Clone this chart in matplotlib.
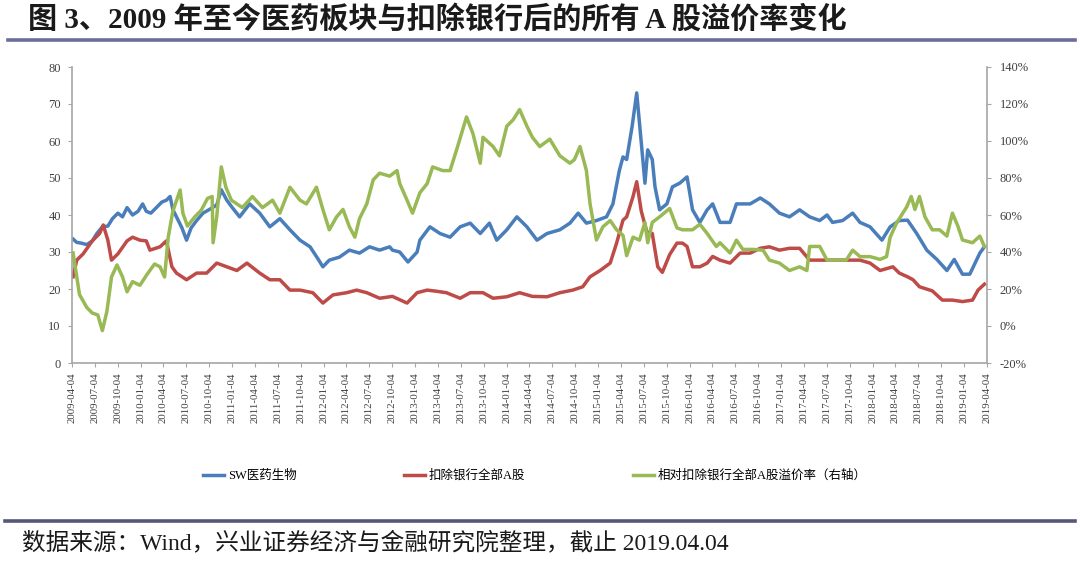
import matplotlib
matplotlib.use('Agg')
import matplotlib.pyplot as plt
from matplotlib.lines import Line2D
from matplotlib.ticker import FuncFormatter
from matplotlib.font_manager import FontProperties

# ---------------- data (time in decimal years) ----------------
blue_t = [2009.27, 2009.31, 2009.36, 2009.42, 2009.48, 2009.53, 2009.59, 2009.65, 2009.70, 2009.76,
          2009.81, 2009.86, 2009.92, 2009.98, 2010.03, 2010.07, 2010.12, 2010.18, 2010.24, 2010.29,
          2010.33, 2010.36, 2010.41, 2010.46, 2010.51, 2010.56, 2010.62, 2010.69, 2010.76, 2010.84,
          2010.89, 2010.95, 2011.01, 2011.09, 2011.20, 2011.31, 2011.42, 2011.53, 2011.64, 2011.75,
          2011.86, 2011.95, 2012.00, 2012.07, 2012.18, 2012.29, 2012.40, 2012.51, 2012.62, 2012.73,
          2012.76, 2012.84, 2012.93, 2013.03, 2013.06, 2013.17, 2013.28, 2013.39, 2013.50, 2013.61,
          2013.72, 2013.82, 2013.90, 2014.01, 2014.12, 2014.23, 2014.34, 2014.45, 2014.59, 2014.70,
          2014.79, 2014.88, 2014.99, 2015.10, 2015.17, 2015.24, 2015.28, 2015.32, 2015.38, 2015.43,
          2015.48, 2015.52, 2015.55, 2015.60, 2015.63, 2015.68, 2015.76, 2015.82, 2015.90, 2015.98,
          2016.04, 2016.12, 2016.20, 2016.26, 2016.34, 2016.45, 2016.52, 2016.67, 2016.78, 2016.88,
          2016.99, 2017.10, 2017.21, 2017.32, 2017.43, 2017.51, 2017.57, 2017.68, 2017.79, 2017.87,
          2017.98, 2018.11, 2018.20, 2018.30, 2018.39, 2018.49, 2018.60, 2018.71, 2018.82, 2018.90,
          2018.99, 2019.07, 2019.18, 2019.23]
blue_v = [33.5, 32.6, 32.4, 32.0, 33.0, 35.0, 36.8, 37.0, 39.0, 40.5,
          39.5, 42.0, 40.0, 41.0, 43.0, 41.0, 40.5, 42.0, 43.5, 44.0,
          45.0, 41.5, 39.0, 36.5, 33.2, 36.5, 38.5, 40.5, 41.5, 42.7,
          46.8, 44.0, 42.0, 39.5, 43.0, 40.5, 36.8, 39.0, 36.0, 33.2,
          31.4, 28.0, 26.0, 27.8, 28.6, 30.5, 29.7, 31.4, 30.5, 31.4,
          30.5, 30.0, 27.3, 30.0, 33.2, 36.8, 35.0, 34.0, 36.8, 37.8,
          35.0, 37.8, 33.2, 36.0, 39.5, 36.8, 33.2, 35.0, 36.0, 37.8,
          40.5, 37.8, 38.5, 39.5, 43.0, 52.0, 55.7, 55.0, 64.0, 73.0,
          59.5, 48.6, 57.6, 55.0, 47.6, 41.4, 43.0, 47.6, 48.6, 50.3,
          41.4, 38.0, 41.4, 43.0, 38.0, 38.0, 43.0, 43.0, 44.6, 43.0,
          40.5, 39.5, 41.4, 39.5, 38.5, 40.0, 38.0, 38.5, 40.5, 38.0,
          36.8, 33.2, 36.8, 38.5, 38.6, 35.0, 30.5, 28.0, 25.0, 28.0,
          24.0, 24.0, 29.7, 31.4]

red_t = [2009.27, 2009.31, 2009.38, 2009.48, 2009.56, 2009.60, 2009.65, 2009.69, 2009.76, 2009.86,
         2009.92, 2010.00, 2010.07, 2010.11, 2010.22, 2010.29, 2010.35, 2010.40, 2010.51, 2010.62,
         2010.73, 2010.84, 2010.95, 2011.06, 2011.17, 2011.31, 2011.42, 2011.53, 2011.64, 2011.75,
         2011.89, 2012.00, 2012.11, 2012.26, 2012.37, 2012.48, 2012.62, 2012.76, 2012.92, 2013.03,
         2013.14, 2013.24, 2013.35, 2013.50, 2013.61, 2013.75, 2013.86, 2014.01, 2014.15, 2014.29,
         2014.45, 2014.59, 2014.73, 2014.84, 2014.92, 2015.03, 2015.14, 2015.21, 2015.28, 2015.32,
         2015.39, 2015.43, 2015.48, 2015.54, 2015.60, 2015.66, 2015.71, 2015.79, 2015.87, 2015.93,
         2015.98, 2016.04, 2016.12, 2016.20, 2016.26, 2016.34, 2016.45, 2016.56, 2016.67, 2016.78,
         2016.88, 2016.99, 2017.10, 2017.21, 2017.32, 2017.43, 2017.57, 2017.72, 2017.87, 2017.98,
         2018.09, 2018.16, 2018.23, 2018.30, 2018.39, 2018.45, 2018.52, 2018.66, 2018.77, 2018.88,
         2018.99, 2019.10, 2019.16, 2019.23]
red_v = [23.3, 27.8, 29.5, 33.0, 35.0, 37.3, 33.2, 27.8, 29.5, 33.0,
         34.0, 33.2, 33.0, 30.5, 31.4, 33.0, 26.0, 24.3, 22.5, 24.3,
         24.3, 27.0, 26.0, 25.0, 27.0, 24.3, 22.5, 22.5, 19.7, 19.7,
         19.0, 16.2, 18.4, 19.0, 19.7, 19.0, 17.5, 18.0, 16.2, 19.0,
         19.7, 19.4, 19.0, 17.5, 19.0, 19.0, 17.5, 17.9, 19.0, 18.0,
         17.9, 19.0, 19.7, 20.6, 23.3, 25.0, 27.0, 32.4, 38.6, 39.5,
         45.0, 49.0, 41.0, 35.5, 35.0, 26.0, 24.5, 29.3, 32.4, 32.4,
         31.5, 26.0, 26.0, 27.0, 28.8, 27.8, 27.0, 29.7, 29.7, 31.0,
         31.4, 30.5, 31.0, 31.0, 27.8, 27.8, 27.8, 27.8, 27.8, 27.0,
         25.0, 25.5, 26.0, 24.3, 23.3, 22.5, 20.6, 19.5, 17.0, 17.0,
         16.6, 17.0, 19.7, 21.3]

green_t = [2009.27, 2009.34, 2009.42, 2009.48, 2009.54, 2009.59, 2009.64, 2009.69, 2009.75, 2009.81,
           2009.86, 2009.92, 2010.00, 2010.08, 2010.16, 2010.22, 2010.27, 2010.31, 2010.36, 2010.44,
           2010.47, 2010.52, 2010.60, 2010.67, 2010.74, 2010.79, 2010.80, 2010.84, 2010.89, 2010.94,
           2011.00, 2011.12, 2011.23, 2011.34, 2011.45, 2011.53, 2011.64, 2011.75, 2011.82, 2011.93,
           2012.00, 2012.07, 2012.15, 2012.22, 2012.29, 2012.35, 2012.40, 2012.48, 2012.55, 2012.62,
           2012.73, 2012.81, 2012.84, 2012.92, 2012.98, 2013.06, 2013.14, 2013.20, 2013.31, 2013.39,
           2013.46, 2013.57, 2013.64, 2013.72, 2013.75, 2013.86, 2013.93, 2014.01, 2014.08, 2014.15,
           2014.23, 2014.29, 2014.37, 2014.48, 2014.59, 2014.70, 2014.75, 2014.81, 2014.88, 2014.92,
           2014.99, 2015.06, 2015.14, 2015.21, 2015.28, 2015.32, 2015.39, 2015.46, 2015.52, 2015.55,
           2015.60, 2015.68, 2015.79, 2015.87, 2015.93, 2016.04, 2016.12, 2016.20, 2016.30, 2016.34,
           2016.45, 2016.52, 2016.59, 2016.70, 2016.81, 2016.88, 2016.99, 2017.10, 2017.21, 2017.29,
           2017.32, 2017.43, 2017.51, 2017.62, 2017.72, 2017.79, 2017.87, 2017.98, 2018.09, 2018.16,
           2018.20, 2018.27, 2018.38, 2018.43, 2018.47, 2018.52, 2018.58, 2018.66, 2018.74, 2018.82,
           2018.88, 2018.94, 2018.99, 2019.10, 2019.18, 2019.23]
green_pct = [39.5, 17.0, 10.0, 7.0, 6.0, -2.5, 8.0, 26.5, 33.0, 26.6,
             18.5, 24.0, 22.0, 28.0, 33.5, 32.0, 26.5, 48.0, 62.0, 73.5,
             61.0, 54.0, 59.0, 62.5, 69.0, 70.0, 45.0, 59.0, 86.0, 75.0,
             68.0, 64.0, 70.0, 64.0, 68.0, 61.0, 75.0, 68.0, 66.0, 75.0,
             63.0, 52.0, 59.0, 63.0, 53.6, 48.0, 58.0, 66.0, 79.0, 82.6,
             81.0, 84.0, 77.0, 68.0, 61.0, 72.0, 77.0, 86.0, 84.0, 84.0,
             95.0, 113.0, 104.0, 88.0, 102.0, 97.0, 92.0, 108.0, 111.5, 117.0,
             108.0, 102.0, 97.0, 101.0, 92.0, 88.0, 90.0, 97.0, 84.0, 66.0,
             46.5, 53.6, 57.0, 52.0, 49.0, 38.0, 48.0, 46.4, 56.0, 45.0,
             56.0, 59.0, 63.5, 53.0, 52.0, 52.0, 55.0, 50.0, 43.0, 45.0,
             39.5, 46.4, 41.4, 41.4, 41.0, 35.6, 34.0, 30.0, 32.0, 30.0,
             43.0, 43.0, 35.6, 35.6, 35.6, 41.0, 37.5, 37.5, 36.0, 37.5,
             48.0, 55.7, 64.3, 70.0, 63.0, 70.0, 59.0, 52.0, 52.0, 48.6,
             61.0, 54.0, 46.5, 45.0, 48.6, 43.0]

series_names = ['SW医药生物', '扣除银行全部A股', '相对扣除银行全部A股溢价率（右轴）']
left_ticks = [0, 10, 20, 30, 40, 50, 60, 70, 80]
right_ticks = [-20, 0, 20, 40, 60, 80, 100, 120, 140]
tick_years = list(range(2009, 2020))
tick_months = [1, 4, 7, 10]
x_tick_labels = ['%d-%02d-04' % (y, m) for y in tick_years for m in tick_months
                 if (y, m) >= (2009, 4) and (y, m) <= (2019, 4)]
x_tick_pos = [int(s[:4]) + (int(s[5:7]) - 1) / 12 + 3 / 365 for s in x_tick_labels]

title = '图 3、2009 年至今医药板块与扣除银行后的所有 A 股溢价率变化'
source = '数据来源：Wind，兴业证券经济与金融研究院整理，截止 2019.04.04'

# ---------------- styles ----------------
C_BLUE = '#4a7ebb'
C_RED = '#be4b48'
C_GREEN = '#98b954'
SPINE = '#a6a6a6'
serif_cjk = ['Liberation Serif', 'Noto Sans CJK SC']

W, H = 1080, 571
fig = plt.figure(figsize=(W / 100, H / 100), dpi=100)
fig.patch.set_facecolor('white')

ax = fig.add_axes([72 / W, 1 - 363 / H, (987 - 72) / W, (363 - 67) / H])
ax2 = ax.twinx()

lw = 2.5
l1, = ax.plot(blue_t, blue_v, color=C_BLUE, lw=lw, solid_joinstyle='round')
l2, = ax.plot(red_t, red_v, color=C_RED, lw=lw, solid_joinstyle='round')
l3, = ax2.plot(green_t, green_pct, color=C_GREEN, lw=lw, solid_joinstyle='round')

ax.set_xlim(x_tick_pos[0], x_tick_pos[-1])
ax.set_ylim(0, 80)
ax2.set_ylim(-20, 140)
ax.set_yticks(left_ticks)
ax2.set_yticks(right_ticks)
ax2.yaxis.set_major_formatter(FuncFormatter(lambda v, p: '%d%%' % v))
ax.set_xticks(x_tick_pos)
ax.set_xticklabels(x_tick_labels, rotation=90, fontfamily='Liberation Serif',
                   fontsize=7.8, color='#404040')

for a in (ax, ax2):
    for s in a.spines.values():
        s.set_visible(False)
ax.spines['left'].set_visible(True)
ax.spines['bottom'].set_visible(True)
ax2.spines['right'].set_visible(True)
for s in (ax.spines['left'], ax.spines['bottom'], ax2.spines['right']):
    s.set_color(SPINE)
    s.set_linewidth(1.2)

ax.tick_params(axis='y', length=3, width=0.8, color=SPINE, pad=5,
               labelsize=9, labelcolor='#404040')
ax.tick_params(axis='x', length=3, width=0.8, color=SPINE, pad=4)
ax2.tick_params(axis='y', length=3, width=0.8, color=SPINE, pad=6,
                labelsize=9, labelcolor='#404040')
for lab in ax.get_yticklabels() + ax2.get_yticklabels():
    lab.set_fontfamily('Liberation Serif')

# title and separators
fig.text(28 / W, 1 - 19 / H, title, fontsize=21, fontweight='bold',
         family=serif_cjk, color='#1a1a1a', va='center', ha='left')
fig.add_artist(Line2D([8 / W, 1075 / W], [1 - 40 / H, 1 - 40 / H],
                      color='#6a6e98', lw=2.6, transform=fig.transFigure))
fig.add_artist(Line2D([5 / W, 1075 / W], [1 - 521 / H, 1 - 521 / H],
                      color='#54577a', lw=2.6, transform=fig.transFigure))
fig.text(22 / W, 1 - 543 / H, source, fontsize=17, family=serif_cjk,
         color='#1a1a1a', va='center', ha='left')

leg_prop = FontProperties(family=serif_cjk, size=9)
fig.legend([l1, l2, l3], series_names, loc='center', bbox_to_anchor=(535 / W, 1 - 476 / H),
           ncol=3, frameon=False, prop=leg_prop, handlelength=1.7, handletextpad=0.3,
           columnspacing=8.6)

fig.savefig('out.png', dpi=100, facecolor='white')
